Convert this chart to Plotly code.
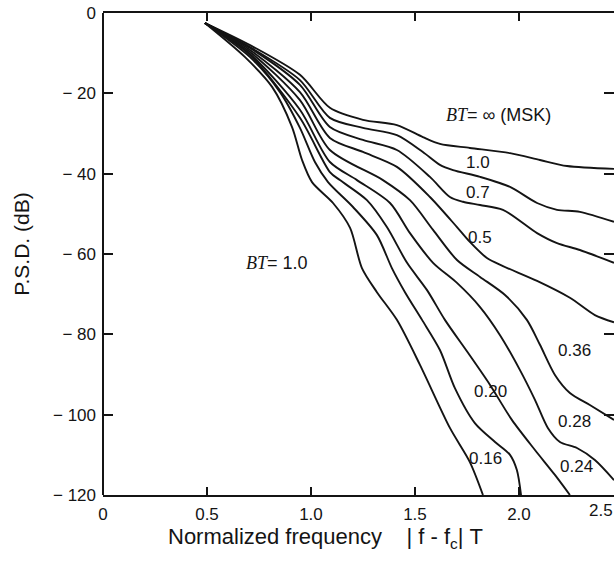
import plotly.graph_objects as go

# GMSK power spectral density curves
bt_labels = ["∞", "1.0", "0.7", "0.5", "0.36", "0.28", "0.24", "0.20", "0.16"]

x_msk = [0.49, 0.707, 0.947, 1.091, 1.25, 1.413, 1.538, 1.62, 1.764, 1.957, 2.101, 2.231, 2.457]
y_msk = [-2.5, -8.0, -15.4, -23.6, -26.6, -27.9, -30.9, -32.6, -33.6, -34.9, -36.6, -38.1, -38.8]

x_10 = [0.49, 0.707, 0.947, 1.091, 1.25, 1.413, 1.538, 1.62, 1.683, 1.813, 1.957, 2.087, 2.183, 2.293, 2.457]
y_10 = [-2.5, -8.5, -16.7, -26.1, -28.6, -30.4, -34.6, -37.8, -39.1, -40.8, -43.3, -47.3, -49.0, -49.5, -52.0]

x_07 = [0.49, 0.707, 0.947, 1.091, 1.25, 1.413, 1.572, 1.668, 1.731, 1.813, 1.923, 2.087, 2.183, 2.293, 2.457]
y_07 = [-2.5, -8.7, -17.9, -28.4, -31.6, -34.1, -40.8, -45.8, -47.0, -47.8, -49.0, -54.8, -57.3, -59.0, -62.2]

x_05 = [0.49, 0.707, 0.947, 1.091, 1.25, 1.413, 1.572, 1.702, 1.764, 1.846, 1.923, 2.087, 2.245, 2.365, 2.457]
y_05 = [-2.5, -9.2, -19.7, -31.1, -34.6, -38.3, -45.8, -53.3, -57.0, -61.0, -63.0, -66.7, -70.9, -75.2, -77.0]

x_036 = [0.49, 0.707, 0.947, 1.091, 1.346, 1.476, 1.587, 1.702, 1.813, 1.933, 2.038, 2.101, 2.173, 2.245, 2.341, 2.457]
y_036 = [-2.5, -9.7, -21.7, -34.1, -41.6, -46.6, -54.0, -61.5, -65.7, -70.2, -76.4, -82.6, -90.1, -94.6, -97.6, -101.3]

x_028 = [0.49, 0.707, 0.947, 1.091, 1.221, 1.38, 1.476, 1.587, 1.702, 1.813, 1.909, 2.005, 2.077, 2.139, 2.197, 2.279, 2.365, 2.457]
y_028 = [-2.5, -10.2, -24.1, -37.1, -41.6, -47.3, -54.8, -62.2, -67.2, -73.2, -80.2, -88.9, -96.3, -103.3, -106.8, -108.3, -111.3, -116.3]

x_024 = [0.49, 0.707, 0.947, 1.091, 1.139, 1.269, 1.365, 1.462, 1.558, 1.644, 1.755, 1.861, 1.966, 2.077, 2.173, 2.245]
y_024 = [-2.5, -10.5, -26.1, -39.6, -41.6, -46.6, -53.3, -62.2, -69.0, -76.4, -84.6, -92.6, -101.3, -108.8, -115.0, -120.0]

x_020 = [0.49, 0.707, 0.851, 0.947, 1.019, 1.082, 1.202, 1.317, 1.389, 1.452, 1.534, 1.62, 1.692, 1.788, 1.885, 1.957, 1.99, 2.01]
y_020 = [-2.5, -11.0, -19.7, -28.6, -37.1, -42.1, -48.3, -55.3, -63.5, -69.5, -76.4, -83.9, -93.4, -102.1, -106.8, -110.0, -113.8, -120.0]

x_016 = [0.49, 0.683, 0.813, 0.909, 0.957, 1.005, 1.106, 1.188, 1.245, 1.317, 1.413, 1.524, 1.668, 1.764, 1.827]
y_016 = [-2.5, -11.0, -18.4, -28.4, -36.6, -42.1, -47.3, -53.5, -63.5, -69.5, -76.4, -87.6, -103.3, -111.8, -120.0]

curves_x = [x_msk, x_10, x_07, x_05, x_036, x_028, x_024, x_020, x_016]
curves_y = [y_msk, y_10, y_07, y_05, y_036, y_028, y_024, y_020, y_016]

# curve labels (text, x, y in data units)
label_text = ["1.0", "0.7", "0.5", "0.36", "0.28", "0.24", "0.20", "0.16"]
label_x = [1.803, 1.803, 1.815, 2.269, 2.269, 2.279, 1.862, 1.841]
label_y = [-37.1, -44.6, -56.0, -83.9, -101.8, -113.0, -94.3, -110.8]

x_ticks = [0, 0.5, 1.0, 1.5, 2.0]
x_ticktext = ["0", "0.5", "1.0", "1.5", "2.0"]
y_ticks = [0, -20, -40, -60, -80, -100, -120]
y_ticktext = ["0", "\u2212 20", "\u2212 40", "\u2212 60", "\u2212 80", "\u2212 100", "\u2212 120"]

font_sans = "Liberation Sans, Arial, sans-serif"
ink = "#141414"

fig = go.Figure()
for cx, cy, name in zip(curves_x, curves_y, bt_labels):
    fig.add_trace(go.Scatter(x=cx, y=cy, mode="lines", name=name,
                             line=dict(color=ink, width=1.9, shape="spline", smoothing=0.8)))

for t, lx, ly in zip(label_text, label_x, label_y):
    fig.add_annotation(x=lx, y=ly, text=t, showarrow=False,
                       font=dict(family=font_sans, size=17, color=ink))

bt_italic = '<span style="font-family:Liberation Serif"><i>BT</i></span>'
fig.add_annotation(x=1.904, y=-25.4, text=bt_italic + "= \u221e (MSK)", showarrow=False,
                   font=dict(family=font_sans, size=18, color=ink))
fig.add_annotation(x=0.837, y=-62.2, text=bt_italic + "= 1.0", showarrow=False,
                   font=dict(family=font_sans, size=18, color=ink))

# the 2.5 tick label sits at the cut-off right edge of the scan
fig.add_annotation(xref="paper", x=0.974, xanchor="center", y=-120, yanchor="top", yshift=-4,
                   text="2.5", showarrow=False, font=dict(family=font_sans, size=17, color=ink))

fig.add_annotation(xref="paper", yref="paper", x=0.435, y=-0.089, xanchor="center", yanchor="middle",
                   text="Normalized frequency\u00a0\u00a0\u00a0 |\u00a0f\u00a0-\u00a0f<sub>c</sub>|\u00a0T",
                   showarrow=False, font=dict(family=font_sans, size=22, color=ink))
fig.add_annotation(xref="paper", yref="paper", x=-0.1585, y=0.519, xanchor="center", yanchor="middle",
                   textangle=-90, text="P.S.D. (dB)", showarrow=False,
                   font=dict(family=font_sans, size=21, color=ink))

# left axis line (right edge of the frame is cut off in the scan)
fig.add_shape(type="line", xref="paper", yref="paper", x0=0, x1=0, y0=0, y1=1,
              line=dict(color=ink, width=2))

fig.update_layout(
    width=614, height=570,
    margin=dict(l=103, r=0, t=13, b=75),
    paper_bgcolor="white", plot_bgcolor="white",
    showlegend=False,
    xaxis=dict(range=[0, 2.457], tickvals=x_ticks, ticktext=x_ticktext,
               ticks="inside", ticklen=8, tickwidth=1.5, tickcolor=ink,
               showline=True, linecolor=ink, linewidth=2, mirror="ticks",
               showgrid=False, zeroline=False, ticklabelstandoff=3,
               tickfont=dict(family=font_sans, size=17, color=ink)),
    yaxis=dict(range=[-120, 0], tickvals=y_ticks, ticktext=y_ticktext,
               ticks="inside", ticklen=10, tickwidth=1.5, tickcolor=ink,
               showline=False, mirror="ticks",
               showgrid=False, zeroline=False, ticklabelstandoff=6,
               tickfont=dict(family=font_sans, size=17, color=ink)),
)

fig.write_html("out.html", config={"displayModeBar": False},
               post_script="document.body.style.margin='0';")
